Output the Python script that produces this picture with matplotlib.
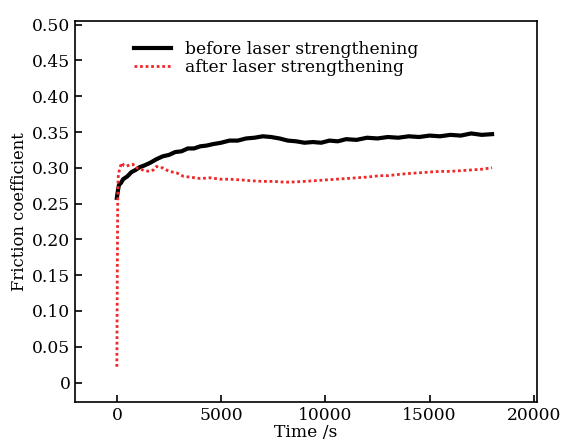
import matplotlib
matplotlib.use("Agg")
import matplotlib.pyplot as plt
from matplotlib.ticker import FuncFormatter

# friction coefficient vs time
t_before = [0, 50, 100, 200, 300, 500, 700, 900, 1100, 1300, 1600, 1900, 2200,
            2500, 2800, 3100, 3400, 3700, 4000, 4300, 4600, 5000, 5400, 5800,
            6200, 6600, 7000, 7400, 7800, 8200, 8600, 9000, 9400, 9800, 10200,
            10600, 11000, 11500, 12000, 12500, 13000, 13500, 14000, 14500,
            15000, 15500, 16000, 16500, 17000, 17500, 18000]
mu_before = [0.258, 0.268, 0.276, 0.279, 0.284, 0.288, 0.294, 0.297, 0.301,
             0.303, 0.307, 0.312, 0.316, 0.318, 0.322, 0.323, 0.327, 0.327,
             0.330, 0.331, 0.333, 0.335, 0.338, 0.338, 0.341, 0.342, 0.344,
             0.343, 0.341, 0.338, 0.337, 0.335, 0.336, 0.335, 0.338, 0.337,
             0.340, 0.339, 0.342, 0.341, 0.343, 0.342, 0.344, 0.343, 0.345,
             0.344, 0.346, 0.345, 0.348, 0.346, 0.347]

t_after = [0, 20, 40, 60, 120, 225, 350, 460, 600, 770, 900, 1100, 1300,
           1580, 1750, 1900, 2050, 2200, 2500, 2860, 3200, 3500, 4000, 4460,
           5000, 5420, 6000, 6380, 7000, 7500, 8000, 8300, 9000, 9500, 10000,
           10500, 11000, 11500, 12000, 12600, 13000, 13600, 14000, 14500,
           15000, 15500, 16000, 16500, 17000, 17500, 18000]
mu_after = [0.022, 0.150, 0.250, 0.286, 0.297, 0.307, 0.303, 0.302, 0.304,
            0.305, 0.300, 0.299, 0.296, 0.295, 0.297, 0.302, 0.300, 0.300,
            0.295, 0.293, 0.288, 0.287, 0.285, 0.286, 0.284, 0.284, 0.283,
            0.282, 0.281, 0.281, 0.280, 0.280, 0.281, 0.282, 0.283, 0.284,
            0.285, 0.286, 0.287, 0.289, 0.289, 0.291, 0.292, 0.293, 0.294,
            0.295, 0.295, 0.296, 0.297, 0.298, 0.300]

plt.rcParams['font.family'] = ['DejaVu Serif']
plt.rcParams['font.size'] = 12.3

fig = plt.figure(figsize=(5.61, 4.48), dpi=100)
ax = fig.add_axes([0.134, 0.103, 0.823, 0.850])

ax.plot(t_before, mu_before, color='black', lw=3.0,
        label='before laser strengthening')
ax.plot(t_after, mu_after, color='#f02828', lw=2.0, ls=(0, (1, 1)),
        label='after laser strengthening')

ax.set_xlim(-2000, 20150)
ax.set_ylim(-0.027, 0.505)
ax.set_xticks([0, 5000, 10000, 15000, 20000])
ax.set_yticks([0, 0.05, 0.10, 0.15, 0.20, 0.25, 0.30, 0.35, 0.40, 0.45, 0.50])
ax.yaxis.set_major_formatter(FuncFormatter(lambda v, p: '0' if v == 0 else '%.2f' % v))
ax.tick_params(direction='in', length=5, width=1.2, top=False, right=False)
for s in ax.spines.values():
    s.set_linewidth(1.2)

ax.set_xlabel('Time /s', labelpad=0)
ax.set_ylabel('Friction coefficient', labelpad=3, fontsize=11.8)

leg = ax.legend(loc='upper left', bbox_to_anchor=(0.105, 0.975), frameon=False,
                handlelength=2.2, handletextpad=0.8, labelspacing=0.05,
                borderaxespad=0.2)

fig.savefig('out.png', dpi=100)
